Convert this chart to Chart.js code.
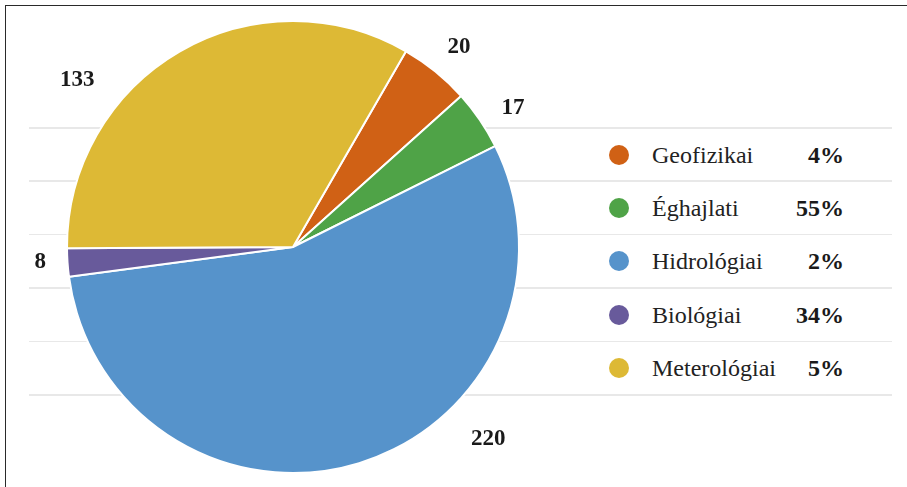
<!DOCTYPE html>
<html>
<head>
<meta charset="utf-8">
<script src="https://cdn.jsdelivr.net/npm/chart.js@4"></script>
<style>
    html, body { margin: 0; padding: 0; background: #fff; overflow: hidden; }
    #wrap { position: relative; width: 907px; height: 487px; overflow: hidden; font-family: "Liberation Serif", "Times New Roman", serif; }
    #frame { position: absolute; left: 5px; top: 5px; width: 1200px; height: 900px; border: 1.5px solid #2a2a2a; }
    .rule { position: absolute; left: 29px; width: 863px; height: 1.5px; background: #e8e8e8; }
    .row { position: absolute; left: 600px; width: 250px; height: 53px; }
    .dot { position: absolute; left: 9px; top: 50%; width: 20px; height: 20px; margin-top: -10px; border-radius: 50%; }
    .name { position: absolute; left: 52px; top: 50%; transform: translateY(-50%); font-size: 24px; color: #222; }
    .pct { position: absolute; right: 6px; top: 50%; transform: translateY(-50%); font-size: 24px; font-weight: bold; color: #1a1a1a; }
    #chart { position: absolute; left: 0; top: 0; }
</style>
</head>
<body>
<div id="wrap">
    <div id="frame"></div>
    <div id="legend"></div>
    <canvas id="chart" width="907" height="487"></canvas>
</div>
<script>
// Chart data
const categories = ['Geofizikai', 'Éghajlati', 'Hidrológiai', 'Biológiai', 'Meterológiai'];
const values = [20, 17, 220, 8, 133];
const legendPercents = ['4%', '55%', '2%', '34%', '5%'];
const colors = ['#D06115', '#4FA347', '#5693CB', '#685A9B', '#DDB935'];

// Legend rows and separator lines
const legend = document.getElementById('legend');
const rowTop = 127, rowH = 53.4;
for (let i = 0; i <= categories.length; i++) {
    const line = document.createElement('div');
    line.className = 'rule';
    line.style.top = (rowTop + i * rowH) + 'px';
    legend.appendChild(line);
}
categories.forEach((name, i) => {
    const row = document.createElement('div');
    row.className = 'row';
    row.style.top = (rowTop + i * rowH + 1) + 'px';
    row.innerHTML = '<span class="dot" style="background:' + colors[i] + '"></span>' +
        '<span class="name">' + name + '</span>' +
        '<span class="pct">' + legendPercents[i] + '</span>';
    legend.appendChild(row);
});

// Value labels outside the slices
const outsideLabels = {
    id: 'outsideLabels',
    afterDatasetsDraw(chart, args, opts) {
        const ctx = chart.ctx;
        const meta = chart.getDatasetMeta(0);
        ctx.save();
        ctx.font = 'bold 23px "Liberation Serif", serif';
        ctx.fillStyle = '#1a1a1a';
        ctx.textAlign = 'center';
        ctx.textBaseline = 'middle';
        meta.data.forEach((arc, i) => {
            const span = arc.endAngle - arc.startAngle;
            const big = span > Math.PI / 2;
            const a = arc.startAngle + span * opts.along[i];
            const dx = Math.cos(a), dy = Math.sin(a);
            const text = String(values[i]);
            const w = ctx.measureText(text).width;
            const d = arc.outerRadius + (big ? 29 : 21) + Math.abs(dx) * w / 2 + Math.abs(dy) * 8;
            ctx.fillText(text, arc.x + dx * d, arc.y + dy * d + 1);
        });
        ctx.restore();
    }
};

new Chart(document.getElementById('chart'), {
    type: 'pie',
    data: {
        labels: categories,
        datasets: [{
            data: values,
            backgroundColor: colors,
            borderColor: '#ffffff',
            borderWidth: 2
        }]
    },
    options: {
        responsive: false,
        animation: false,
        rotation: 30,
        layout: { padding: { left: 66, right: 387, top: 20, bottom: 13 } },
        plugins: {
            legend: { display: false },
            tooltip: { enabled: false },
            outsideLabels: { along: [0.53, 0.61, 0.356, 0.59, 0.318] }
        }
    },
    plugins: [outsideLabels]
});
</script>
</body>
</html>
